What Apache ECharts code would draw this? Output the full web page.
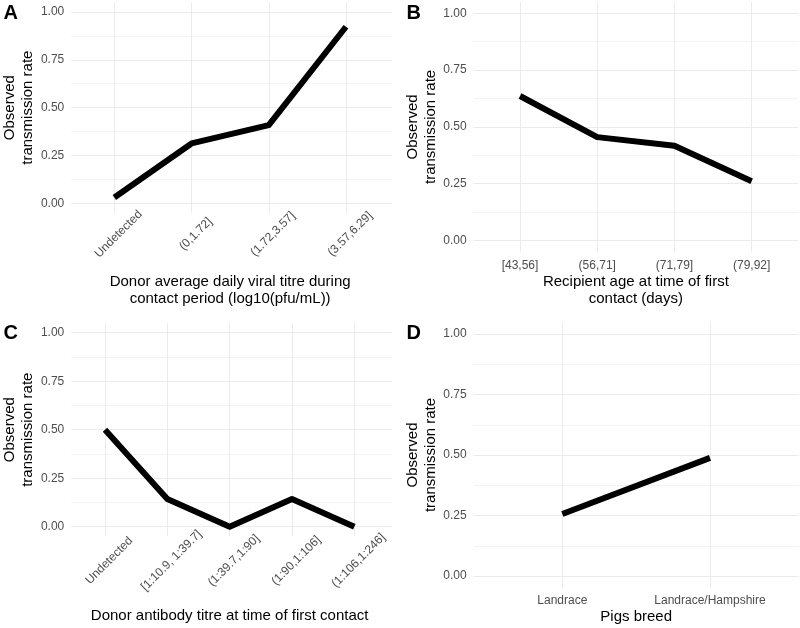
<!DOCTYPE html>
<html>
<head>
<meta charset="utf-8">
<script src="https://cdn.jsdelivr.net/npm/echarts@6/dist/echarts.min.js"></script>
<style>
  html, body { margin: 0; padding: 0; background: #fff; }
  #chart { width: 800px; height: 628px; }
</style>
</head>
<body>
<div id="chart"></div>
<script>
// panel A: donor viral titre
const catsA = ['Undetected', '(0,1.72]', '(1.72,3.57]', '(3.57,6.29]']
const rateA = [0.03, 0.313, 0.409, 0.923]
// panel B: recipient age
const catsB = ['[43,56]', '(56,71]', '(71,79]', '(79,92]']
const rateB = [0.636, 0.455, 0.417, 0.261]
// panel C: donor antibody titre
const catsC = ['Undetected', '[1:10.9, 1:39.7]', '(1:39.7,1:90]', '(1:90,1:106]', '(1:106,1:246]']
const rateC = [0.5, 0.143, 0, 0.143, 0]
// panel D: breed
const catsD = ['Landrace', 'Landrace/Hampshire']
const rateD = [0.256, 0.488]

const yTickLabels = ['0.00', '0.25', '0.50', '0.75', '1.00']
const yName = 'Observed\ntransmission rate'

const FONT = '"Liberation Sans", Arial, sans-serif'
const GRID_COLOR = '#ebebeb'
const MINOR_COLOR = '#f3f3f3'

// left/right = panel edges, y1/y0 = pixel rows of 1.00 and 0.00
const panels = [
  { letter: 'A', cats: catsA, rates: rateA, left: 68, right: 392.3, y1: 12, y0: 203.3,
    xName: 'Donor average daily viral titre during\ncontact period (log10(pfu/mL))',
    rotate: 45, labelMargin: 17, nameGap: 60, lx: 3.5, ly: 3 },
  { letter: 'B', cats: catsB, rates: rateB, left: 473.7, right: 798, y1: 13.3, y0: 240.5,
    xName: 'Recipient age at time of first\ncontact (days)',
    rotate: 0, labelMargin: 8, nameGap: 21, lx: 406.5, ly: 3 },
  { letter: 'C', cats: catsC, rates: rateC, left: 67.6, right: 391.7, y1: 332.7, y0: 526.7,
    xName: 'Donor antibody titre at time of first contact',
    rotate: 45, labelMargin: 20, nameGap: 70.5, lx: 3.5, ly: 323 },
  { letter: 'D', cats: catsD, rates: rateD, left: 473.7, right: 798.6, y1: 334, y0: 576,
    xName: 'Pigs breed',
    rotate: 0, labelMargin: 7, nameGap: 20.5, lx: 406.5, ly: 323 }
]

const option = {
  backgroundColor: '#fff',
  animation: false,
  textStyle: { fontFamily: FONT },
  title: [],
  grid: [],
  xAxis: [],
  yAxis: [],
  series: []
}

panels.forEach((p, i) => {
  const n = p.cats.length
  const step = (p.right - p.left) / (n - 1 + 1.2)
  const ext = 0.05 * (p.y0 - p.y1)
  const hIdx = 2 * i
  const vIdx = 2 * i + 1

  option.title.push({
    text: p.letter,
    left: p.lx,
    top: p.ly,
    padding: 0,
    textStyle: { fontSize: 20, fontWeight: 'bold', color: '#000', fontFamily: FONT }
  })

  // grid holding the horizontal gridlines (full panel width)
  option.grid.push({
    left: p.left,
    top: p.y1,
    width: p.right - p.left,
    height: p.y0 - p.y1
  })
  // grid holding the categories and line (full panel height)
  option.grid.push({
    left: p.left + 0.6 * step,
    top: p.y1 - ext,
    width: (p.right - p.left) - 1.2 * step,
    height: (p.y0 - p.y1) + 2 * ext
  })

  option.xAxis.push({
    gridIndex: hIdx,
    type: 'value',
    min: 0,
    max: 1,
    show: false
  })
  option.xAxis.push({
    gridIndex: vIdx,
    type: 'category',
    boundaryGap: false,
    data: p.cats,
    axisLine: { show: false },
    axisTick: { show: false },
    axisLabel: p.rotate ? {
      interval: 0,
      rotate: p.rotate,
      align: 'center',
      verticalAlign: 'top',
      margin: p.labelMargin,
      fontSize: 12,
      color: '#4d4d4d',
      fontFamily: FONT
    } : {
      interval: 0,
      margin: p.labelMargin,
      fontSize: 12,
      color: '#4d4d4d',
      fontFamily: FONT
    },
    splitLine: { show: true, interval: 0, lineStyle: { color: GRID_COLOR, width: 1 } },
    name: p.xName,
    nameLocation: 'middle',
    nameGap: p.nameGap,
    nameTextStyle: { fontSize: 15, lineHeight: 17, color: '#000', fontFamily: FONT }
  })

  option.yAxis.push({
    gridIndex: hIdx,
    type: 'value',
    min: 0,
    max: 1,
    interval: 0.25,
    axisLine: { show: false },
    axisTick: { show: false },
    axisLabel: {
      margin: 7,
      fontSize: 12,
      color: '#4d4d4d',
      fontFamily: FONT,
      formatter: v => yTickLabels[Math.round(v * 4)]
    },
    splitLine: { lineStyle: { color: GRID_COLOR, width: 1 } },
    minorTick: { show: false, splitNumber: 2 },
    minorSplitLine: { show: true, lineStyle: { color: MINOR_COLOR, width: 1 } },
    name: yName,
    nameLocation: 'middle',
    nameRotate: 90,
    nameGap: 28,
    nameTextStyle: { fontSize: 15, lineHeight: 18, color: '#000', fontFamily: FONT }
  })
  option.yAxis.push({
    gridIndex: vIdx,
    type: 'value',
    min: -0.05,
    max: 1.05,
    show: false
  })

  option.series.push({
    type: 'line',
    xAxisIndex: vIdx,
    yAxisIndex: vIdx,
    data: p.rates,
    symbol: 'none',
    clip: false,
    lineStyle: { color: '#000', width: 6, join: 'round', cap: 'butt' }
  })
})

const chart = echarts.init(document.getElementById('chart'))
chart.setOption(option)
</script>
</body>
</html>
